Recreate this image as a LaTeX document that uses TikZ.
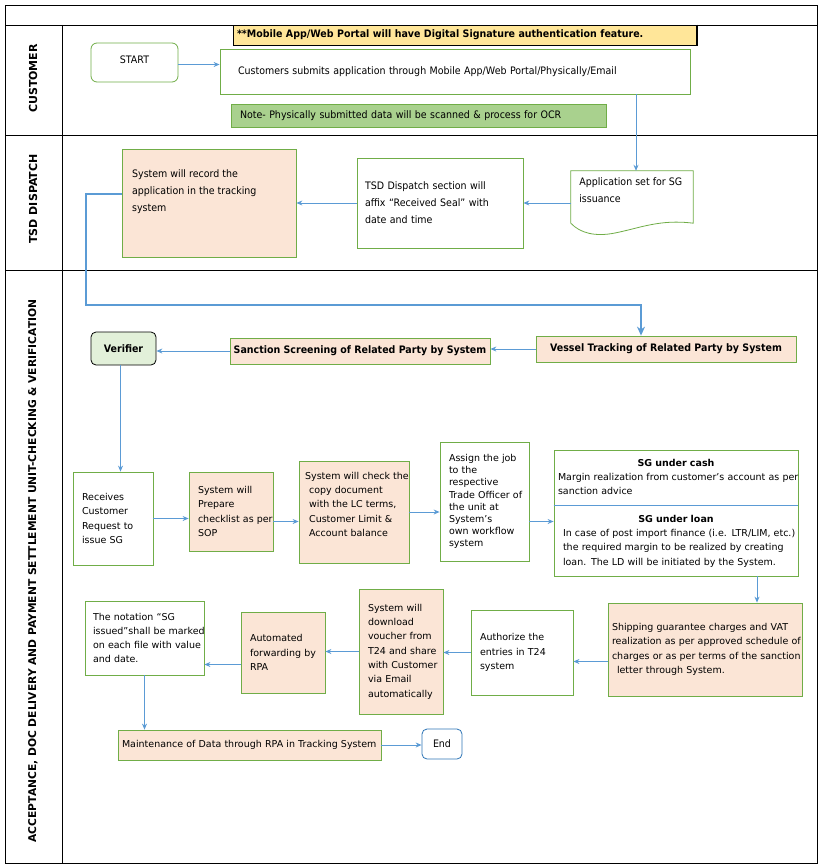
\documentclass[tikz,border=0pt]{standalone}
\usepackage{fontspec}
\setmainfont{DejaVu Sans}
\newfontfamily\condfont[FakeStretch=0.92]{DejaVu Sans}
\usetikzlibrary{arrows.meta}

\definecolor{boxgreen}{HTML}{70AD47}
\definecolor{peachfill}{HTML}{FBE5D6}
\definecolor{notegreen}{HTML}{A9D18E}
\definecolor{noteyellow}{HTML}{FFE699}
\definecolor{verifierfill}{HTML}{E2F0D9}
\definecolor{flowblue}{HTML}{5B9BD5}
\definecolor{endblue}{HTML}{2E75B6}

\tikzset{
  stepbox/.style={draw=boxgreen, line width=0.8pt, inner sep=0pt, align=left},
  peachbox/.style={stepbox, fill=peachfill},
  flow/.style={draw=flowblue, line width=0.9pt, -{Stealth[length=6pt,width=5pt]}},
  lane/.style={rotate=90, font=\bfseries\fontsize{11}{13}\selectfont},
  cond/.style={font=\condfont\fontsize{10.3}{17}\selectfont},
  condbold/.style={font=\condfont\bfseries\fontsize{10.3}{12}\selectfont},
  plain/.style={font=\fontsize{9.5}{14.3}\selectfont},
}

\begin{document}
\begin{tikzpicture}[x=1pt,y=-1pt]
\useasboundingbox (0,0) rectangle (822,867);
\fill[white] (0,0) rectangle (822,867);

% swimlane frame
\draw[line width=0.9pt] (5,5) rectangle (817,863);
\draw[line width=0.9pt] (5,25) -- (817,25);
\draw[line width=0.9pt] (5,135) -- (817,135);
\draw[line width=0.9pt] (5,270) -- (817,270);
\draw[line width=0.9pt] (62,25) -- (62,863);

\node[lane] (lanecust) at (33,78.5) {CUSTOMER};
\node[lane] (lanetsd) at (33,199) {TSD DISPATCH};
\node[lane, font=\bfseries\fontsize{10.7}{13}\selectfont] (laneacc) at (33,571)
      {ACCEPTANCE, DOC DELIVERY AND PAYMENT SETTLEMENT UNIT-CHECKING \& VERIFICATION};

% customer lane
\node[draw=black, line width=0.8pt, fill=noteyellow, minimum width=460, minimum height=20,
      text width=456, align=left, condbold]
      (topnote) at (465,35) {**Mobile App/Web Portal will have Digital Signature authentication feature.};
\draw[line width=1.6pt] (topnote.north east) -- (topnote.south east) -- (topnote.south west);
\node[stepbox, rounded corners=6pt, minimum width=87, minimum height=39, align=center, cond]
      (start) at (134.5,62.5) {START\\[-12pt]};
\node[stepbox, minimum width=470, minimum height=45, text width=434, cond]
      (submit) at (455,71.5) {Customers submits application through Mobile App/Web Portal/Physically/Email};
\node[stepbox, fill=notegreen, minimum width=375, minimum height=23, text width=357, cond]
      (ocrnote) at (418.5,115.5) {Note- Physically submitted data will be scanned \& process for OCR};

% tsd dispatch lane
\node[minimum width=122, minimum height=52] (app) at (632,197) {};
\draw[draw=boxgreen, line width=0.8pt] (app.south west) -- (app.north west) -- (app.north east) -- (app.south east)
      .. controls (660,219) and (640,228) .. (615,233) .. controls (595,237) and (580,233) .. (app.south west) -- cycle;
\node[cond, anchor=north west, align=left] (apptext) at ([xshift=5pt,yshift=-3pt]app.north west)
      {Application set for SG\\issuance};
\node[stepbox, minimum width=166, minimum height=90, text width=150, cond]
      (tsd) at (440,203) {TSD Dispatch section will\\affix “Received Seal” with\\date and time};
\node[peachbox, minimum width=174, minimum height=108] (record) at (209,203) {};
\node[cond, anchor=north west, align=left] (recordtext) at ([xshift=7pt,yshift=-18pt]record.north west)
      {System will record the\\application in the tracking\\system};

% verification lane
\node[peachbox, minimum width=260, minimum height=26, align=center, condbold]
      (vessel) at (666,349) {\raisebox{-3pt}{Vessel Tracking of Related Party by System}};
\node[peachbox, minimum width=260, minimum height=26, align=center, condbold]
      (sanction) at (360,351) {\raisebox{1.5pt}{Sanction Screening of Related Party by System}};
\node[draw=black, line width=0.8pt, fill=verifierfill, rounded corners=5pt, minimum width=65, minimum height=33,
      condbold] (verifier) at (123.5,348.5) {Verifier};

\node[stepbox, minimum width=80, minimum height=93, text width=62, plain]
      (receives) at (113,518.5) {Receives\\Customer\\Request to\\issue SG};
\node[peachbox, minimum width=84, minimum height=79, text width=66, plain]
      (prepare) at (231,511.5) {System will\\Prepare\\\mbox{checklist as per}\\SOP};
\node[peachbox, minimum width=110, minimum height=102] (check) at (354,512) {};
\node[plain, anchor=north west, align=left] (checktext) at ([xshift=3pt,yshift=-8pt]check.north west)
      {System will check the\\\hspace*{4pt}copy document\\\hspace*{4pt}with the LC terms,\\\hspace*{4pt}Customer Limit \&\\\hspace*{4pt}Account balance};
\node[stepbox, minimum width=89, minimum height=119, text width=71, plain, font=\fontsize{9.5}{12.2}\selectfont]
      (assign) at (484.5,501.5) {Assign the job\\to the\\respective\\\mbox{Trade Officer of}\\the unit at\\System's\\\mbox{own workflow}\\system};
\node[stepbox, minimum width=244, minimum height=126] (sg) at (676,513) {};
\draw[draw=flowblue, line width=0.8pt] (sg.west |- 0,505) -- (sg.east |- 0,505);
\node[plain, anchor=north, text width=236] (sgcash) at ([yshift=-6pt]sg.north)
      {\makebox[\linewidth]{\bfseries SG under cash}\\\mbox{Margin realization from customer's account as per}\\sanction advice};
\node[plain, anchor=north, text width=226] (sgloan) at ([yshift=-62pt]sg.north)
      {\makebox[\linewidth]{\bfseries SG under loan}\\\mbox{In case of post import finance (i.e. LTR/LIM, etc.)}\\\mbox{the required margin to be realized by creating}\\\mbox{loan. The LD will be initiated by the System.}};

\node[peachbox, minimum width=194, minimum height=93, text width=186, plain]
      (shipping) at (705,649.5) {\mbox{Shipping guarantee charges and VAT}\\\mbox{realization as per approved schedule of}\\\mbox{charges or as per terms of the sanction}\\\hspace*{5pt}letter through System.};
\node[stepbox, minimum width=102, minimum height=85, text width=84, plain]
      (authorize) at (522,652.5) {Authorize the\\entries in T24\\system};
\node[peachbox, minimum width=84, minimum height=125, text width=66, plain]
      (download) at (401,651.5) {System will\\download\\\mbox{voucher from}\\\mbox{T24 and share}\\\mbox{with Customer}\\via Email\\\mbox{automatically}};
\node[peachbox, minimum width=84, minimum height=81, text width=66, plain]
      (automated) at (283,652.5) {Automated\\\mbox{forwarding by}\\RPA};
\node[stepbox, minimum width=119, minimum height=74, text width=103, plain]
      (notation) at (144.5,638) {The notation “SG\\\mbox{issued”shall be marked}\\\mbox{on each file with value}\\and date.};
\node[peachbox, minimum width=263, minimum height=30, text width=255, plain]
      (maint) at (249.5,745) {\mbox{Maintenance of Data through RPA in Tracking System}};
\node[draw=endblue, line width=0.8pt, rounded corners=5pt, minimum width=40, minimum height=30, cond]
      (endnode) at (442,744) {End\\[-12pt]};

% connectors
\draw[flow] ([yshift=-2pt]start.east) -- ([yshift=-2pt]submit.west |- start.east);
\draw[flow] ([xshift=4pt]submit.south -| app.north) -- ([xshift=4pt]app.north);
\draw[flow] (app.west |- tsd.east) -- (tsd.east);
\draw[flow] (tsd.west) -- (record.east |- tsd.west);
\coordinate (turn) at (86,305);
\draw[draw=flowblue, line width=1.1pt, -{Stealth[length=9pt,width=8pt]}]
      ([yshift=9pt]record.west) -| (turn) -| ([xshift=-25pt]vessel.north);
\draw[flow] (vessel.west) -- (sanction.east |- vessel.west);
\draw[flow] (sanction.west) -- (verifier.east |- sanction.west);
\draw[flow] ([xshift=-3pt]verifier.south) -- ([xshift=-3pt]verifier.south |- receives.north);
\draw[flow] (receives.east) -- (prepare.west |- receives.east);
\draw[flow] ([yshift=-10pt]prepare.east) -- ([yshift=-10pt]check.west |- prepare.east);
\draw[flow] (check.east) -- (assign.west |- check.east);
\draw[flow] ([yshift=-20pt]assign.east) -- ([yshift=-20pt]sg.west |- assign.east);
\draw[flow] ([xshift=81pt]sg.south) -- ([xshift=81pt]sg.south |- shipping.north);
\draw[flow] ([yshift=-12pt]shipping.west) -- ([yshift=-12pt]authorize.east |- shipping.west);
\draw[flow] (authorize.west) -- (download.east |- authorize.west);
\draw[flow] (download.west) -- (automated.east |- download.west);
\draw[flow] ([yshift=-12pt]automated.west) -- ([yshift=-12pt]notation.east |- automated.west);
\draw[flow] (notation.south) -- (notation.south |- maint.north);
\draw[flow] (maint.east) -- (endnode.west |- maint.east);
\end{tikzpicture}
\end{document}
